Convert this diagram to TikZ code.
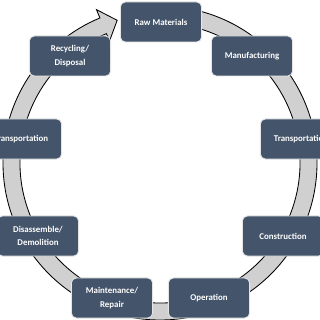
\documentclass[tikz,border=0pt]{standalone}
\usepackage{fontspec}
\setmainfont{Carlito}
\begin{document}
\begin{tikzpicture}[
        % --- CÁC THIẾT LẬP CHUNG ---
        x=0.025cm, y=0.025cm, % 1 đơn vị = 1 điểm ảnh
        % Style cho các giai đoạn (hộp bo góc)
        stage/.style={
            rectangle,
            rounded corners=3.5pt,
            draw=gray!20, % Viền sáng
            line width=0.6pt,
            fill=slate,
            text=white,
            font=\bfseries\fontsize{6.3}{9.5}\selectfont,
            align=center,
            minimum width=2.03cm,
            minimum height=1cm,
            inner sep=1pt
        },
        % Style cho vòng mũi tên
        ring/.style={
            draw=black,
            fill=ringgray,
            line width=0.6pt
        }
    ]
    \definecolor{slate}{HTML}{44546A}
    \definecolor{ringgray}{HTML}{D0D0D0}

    % Khung hình
    \useasboundingbox (0,0) rectangle (320,320);
    \clip (0,0) rectangle (320,320);

    % --- VÒNG MŨI TÊN ---
    \begin{scope}[shift={(160,157)}]
        \draw[ring] (88:157) arc[start angle=88, end angle=-247.5, radius=157]
            -- (-247.5:166) -- (-253.3:149) -- (-247.5:132) -- (-247.5:140)
            arc[start angle=-247.5, end angle=88, radius=140] -- cycle;
    \end{scope}

    % --- CÁC GIAI ĐOẠN ---
    \node[stage] (raw)    at (161,298) {Raw Materials};
    \node[stage] (manu)   at (252,264) {Manufacturing};
    \node[stage] (transR) at (301,181) {Transportation};
    \node[stage] (constr) at (283,84)  {Construction};
    \node[stage] (oper)   at (209,22)  {Operation};
    \node[stage] (maint)  at (112,22)  {Maintenance/\\Repair};
    \node[stage] (disas)  at (38,84)   {Disassemble/\\Demolition};
    \node[stage] (transL) at (21,181)  {Transportation};
    \node[stage] (recyc)  at (70,264)  {Recycling/\\Disposal};

\end{tikzpicture}
\end{document}
